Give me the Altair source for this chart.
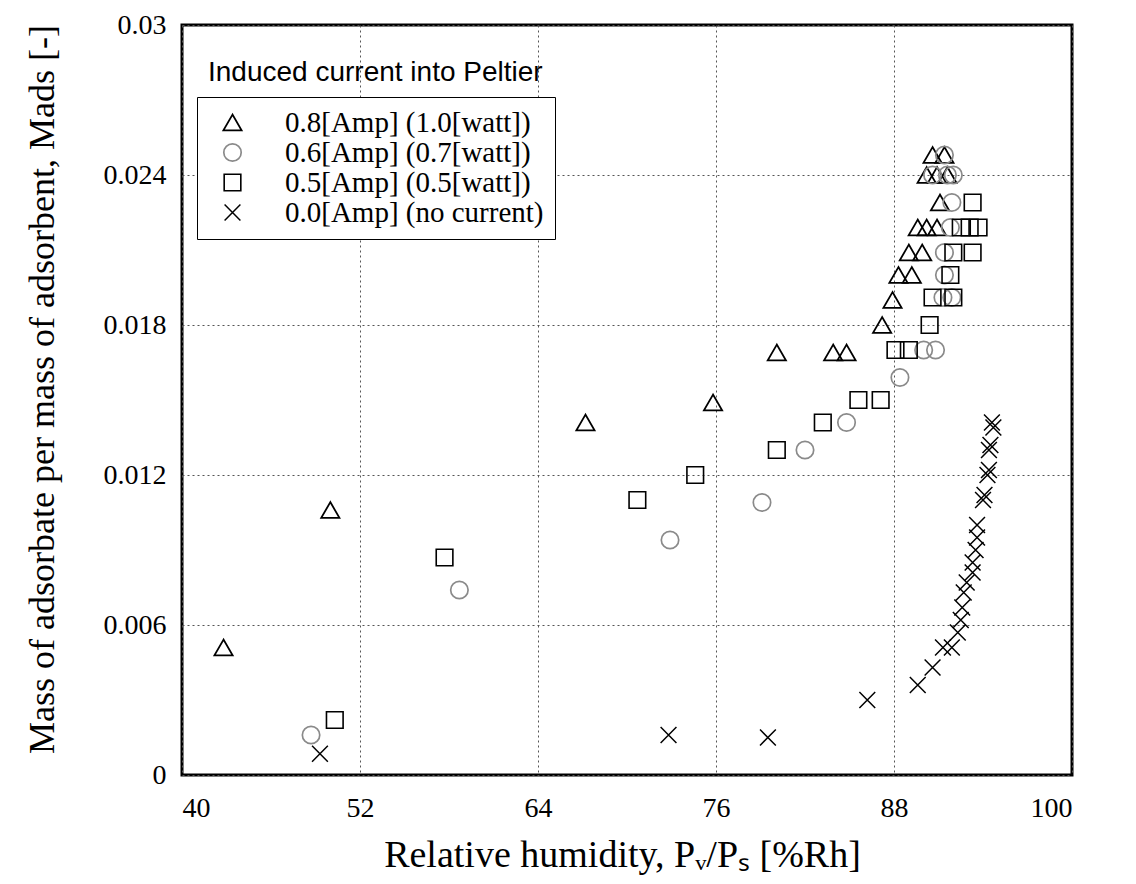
import altair as alt
import pandas as pd

# Relative humidity [%Rh] and mass ratio M_ads
tri_x = [42.8, 50.0, 67.2, 75.8, 80.1, 83.9, 84.8, 87.2, 87.9, 88.3, 89.2, 89.0, 89.9,
         89.6, 90.2, 90.9, 91.1, 90.2, 90.9, 91.6, 90.6, 91.4]
tri_y = [0.0051, 0.0106, 0.0141, 0.0149, 0.0169, 0.0169, 0.0169, 0.0180, 0.0190, 0.0200,
         0.0200, 0.0209, 0.0209, 0.0219, 0.0219, 0.0219, 0.0229, 0.0240, 0.0240, 0.0240,
         0.0248, 0.0248]

circ_x = [48.7, 58.7, 72.9, 79.1, 82.0, 84.8, 88.4, 90.0, 90.8, 91.3, 91.9, 91.4, 91.4,
          91.8, 91.9, 90.6, 91.6, 92.0, 91.4]
circ_y = [0.0016, 0.0074, 0.0094, 0.0109, 0.0130, 0.0141, 0.0159, 0.0170, 0.0170, 0.0191,
          0.0191, 0.0200, 0.0209, 0.0219, 0.0229, 0.0240, 0.0240, 0.0240, 0.0248]

sq_x = [50.3, 57.7, 70.7, 74.6, 80.1, 83.2, 85.6, 87.1, 88.1, 89.0, 90.4, 90.6, 92.0,
        91.8, 92.0, 93.3, 92.5, 93.1, 93.7, 93.3]
sq_y = [0.0022, 0.0087, 0.0110, 0.0120, 0.0130, 0.0141, 0.0150, 0.0150, 0.0170, 0.0170,
        0.0180, 0.0191, 0.0191, 0.0200, 0.0209, 0.0209, 0.0219, 0.0219, 0.0219, 0.0229]

x_x = [49.3, 72.8, 79.5, 86.2, 89.6, 90.6, 91.3, 91.9, 92.3, 92.5, 92.6, 92.7, 92.9,
       93.3, 93.3, 93.5, 93.6, 93.6, 94.0, 94.3, 94.4, 94.6,
       94.1, 94.4, 94.5, 94.7]
x_y = [0.00085, 0.0016, 0.0015, 0.0030, 0.0036, 0.0043, 0.0051, 0.0051, 0.0057, 0.0062,
       0.0067, 0.0073, 0.0077, 0.0081, 0.0085, 0.0090, 0.0095, 0.0100, 0.0110, 0.0120,
       0.0130, 0.0141, 0.0112, 0.0122, 0.0132, 0.0139]

labels = ["0.8[Amp] (1.0[watt])", "0.6[Amp] (0.7[watt])",
          "0.5[Amp] (0.5[watt])", "0.0[Amp] (no current)"]
legend_title = "Induced current into Peltier"
x_ticks = [40, 52, 64, 76, 88, 100]
y_ticks = [0, 0.006, 0.012, 0.018, 0.024, 0.03]

rows = []
for lab, xs, ys in zip(labels, [tri_x, circ_x, sq_x, x_x], [tri_y, circ_y, sq_y, x_y]):
    for a, b in zip(xs, ys):
        rows.append({"rh": a, "m": b, "series": lab})
df = pd.DataFrame(rows)

serif = "Liberation Serif"

legend = alt.Legend(
    title=None, orient="none", legendX=15, legendY=72,
    strokeColor="black", fillColor="white", padding=11,
    labelFont=serif, labelFontSize=29, labelColor="black", labelLimit=500,
    symbolOffset=10, labelOffset=38, rowPadding=-2,
)

shape_scale = alt.Scale(domain=labels,
                        range=["triangle-up", "circle", "square", "M-1,-1L1,1M-1,1L1,-1"])
color_scale = alt.Scale(domain=labels, range=["black", "#8a8a8a", "black", "black"])
size_scale = alt.Scale(domain=labels, range=[330, 250, 300, 620])
sw_scale = alt.Scale(domain=labels, range=[1.8, 1.5, 2.6, 2.0])

points = alt.Chart(df).mark_point(filled=False, opacity=1).encode(
    x=alt.X("rh:Q",
            scale=alt.Scale(domain=[40, 100], nice=False, zero=False),
            axis=alt.Axis(values=x_ticks, title="Relative humidity, Pᵥ/Pₛ [%Rh]",
                          titleX=440, titleY=80, titleBaseline="middle",
                          titleFontSize=38, labelPadding=19)),
    y=alt.Y("m:Q",
            scale=alt.Scale(domain=[0, 0.03], nice=False),
            axis=alt.Axis(values=y_ticks,
                          labelExpr="datum.value == 0 ? '0' : format(datum.value, '.3~f')",
                          title="Mass of adsorbate per mass of adsorbent, Mads [-]",
                          titleX=-140, titleY=364, titleAngle=270,
                          titleBaseline="middle", titleAlign="center",
                          titleFontSize=36, labelPadding=16)),
    shape=alt.Shape("series:N", scale=shape_scale, legend=legend),
    color=alt.Color("series:N", scale=color_scale, legend=legend),
    size=alt.Size("series:N", scale=size_scale, legend=legend),
    strokeWidth=alt.StrokeWidth("series:N", scale=sw_scale, legend=legend),
)

title_text = alt.Chart(pd.DataFrame({"t": [legend_title]})).mark_text(
    align="left", baseline="alphabetic", font="Liberation Sans", fontSize=28, color="black"
).encode(x=alt.value(26), y=alt.value(56), text="t:N")

chart = alt.layer(points, title_text).properties(
    width=890, height=750,
    padding={"left": 174, "top": 17, "right": 40, "bottom": 100},
    autosize=alt.AutoSizeParams(type="none"),
).configure_view(
    stroke="black", strokeWidth=3
).configure_axis(
    domain=False, ticks=False, grid=True,
    gridColor="#555555", gridDash=[2, 3], gridWidth=1,
    labelFont=serif, labelFontSize=28, labelColor="black",
    titleFont=serif, titleColor="black", titleFontWeight="normal",
)

chart.save("out.html", embed_options={"renderer": "svg", "actions": False})
